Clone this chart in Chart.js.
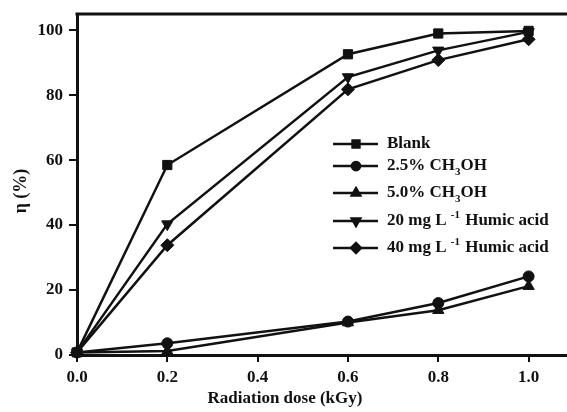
<!DOCTYPE html>
<html>
<head>
<meta charset="utf-8">
<script src="https://cdn.jsdelivr.net/npm/chart.js@4.4.0/dist/chart.umd.min.js"></script>
<style>
  body { margin: 0; background: #fff; }
  #wrap { width: 567px; height: 412px; }
</style>
</head>
<body>
<div id="wrap"><canvas id="myChart" width="567" height="412"></canvas></div>
<script>
// data
var doses = [0.0, 0.2, 0.6, 0.8, 1.0];
var blank = [0.8, 58.5, 92.6, 99.0, 99.8];
var meoh25 = [0.8, 3.6, 10.3, 16.0, 24.2];
var meoh50 = [0.8, 1.2, 10.0, 13.8, 21.2];
var humic20 = [0.8, 40.3, 85.6, 93.8, 99.5];
var humic40 = [0.8, 33.8, 81.8, 90.8, 97.2];

var seriesNames = ['Blank', '2.5% CH\u2083OH', '5.0% CH\u2083OH', '20 mg L\u207B\u00B9 Humic acid', '40 mg L\u207B\u00B9 Humic acid'];
// legend text with _x = subscript, ^x = superscript
var legendText = ['Blank', '2.5% CH_3OH', '5.0% CH_3OH', '20 mg L ^-1 Humic acid', '40 mg L ^-1 Humic acid'];
var xTicks = [0.0, 0.2, 0.4, 0.6, 0.8, 1.0];
var yTicks = [0, 20, 40, 60, 80, 100];

var ink = '#111';
var serif = "'Liberation Serif', 'Times New Roman', serif";

function pts(vals) {
  return doses.map(function(d, i) { return { x: d, y: vals[i] }; });
}

function ds(label, vals, style, radius, rot) {
  return {
    label: label,
    data: pts(vals),
    borderColor: ink,
    backgroundColor: ink,
    borderWidth: 2.5,
    pointStyle: style,
    pointRadius: radius,
    pointRotation: rot || 0,
    pointBorderWidth: 1,
    tension: 0,
    clip: false
  };
}

var markers = [
  { style: 'rect', r: 6.5, rot: 0 },
  { style: 'circle', r: 5.5, rot: 0 },
  { style: 'triangle', r: 6.5, rot: 0 },
  { style: 'triangle', r: 6.5, rot: 180 },
  { style: 'rectRot', r: 6.5, rot: 0 }
];
var allVals = [blank, meoh25, meoh50, humic20, humic40];

// legend, titles and top frame line
var extras = {
  id: 'extras',
  afterDraw: function(chart) {
    var c = chart.ctx, a = chart.chartArea;
    c.save();
    c.strokeStyle = ink;
    c.lineWidth = 3;
    c.beginPath();
    c.moveTo(a.left - 1.5, a.top);
    c.lineTo(chart.width, a.top);
    c.stroke();

    // axis titles
    c.fillStyle = ink;
    c.font = 'bold 17px ' + serif;
    c.textAlign = 'center';
    c.textBaseline = 'middle';
    c.fillText('Radiation dose (kGy)', 285, 399);
    c.save();
    c.translate(21, 191);
    c.rotate(-Math.PI / 2);
    c.font = 'bold 18px ' + serif;
    c.fillText('\u03B7 (%)', 0, 0);
    c.restore();

    // legend
    var rows = [144, 166, 193, 221, 248];
    rows.forEach(function(y, i) {
      c.lineWidth = 2.5;
      c.beginPath();
      c.moveTo(333, y);
      c.lineTo(378, y);
      c.stroke();
      var m = markers[i];
      Chart.helpers.drawPoint(c, { pointStyle: m.style, radius: m.r * 0.75, rotation: m.rot, borderWidth: 1 }, 356, y);
      c.fill();
      drawRich(c, legendText[i], 387, y);
    });
    c.restore();
  }
};

function drawRich(c, txt, x, y) {
  var big = 'bold 17px ' + serif, small = 'bold 11px ' + serif;
  c.textAlign = 'left';
  c.textBaseline = 'middle';
  var i = 0;
  while (i < txt.length) {
    var ch = txt[i];
    if (ch === '_' || ch === '^') {
      var j = i + 1, part = '';
      if (ch === '^') { part = txt.substr(j, 2); j += 2; } else { part = txt[j]; j += 1; }
      c.font = small;
      c.fillText(part, x, y + (ch === '_' ? 6 : -6));
      x += c.measureText(part).width + (ch === '^' ? 1 : 0);
      i = j;
    } else {
      var k = i;
      while (k < txt.length && txt[k] !== '_' && txt[k] !== '^') k++;
      var seg = txt.substring(i, k);
      c.font = big;
      c.fillText(seg, x, y);
      x += c.measureText(seg).width;
      i = k;
    }
  }
}

var ctx = document.getElementById('myChart').getContext('2d');
var chart = new Chart(ctx, {
  type: 'line',
  data: {
    datasets: allVals.map(function(v, i) {
      return ds(seriesNames[i], v, markers[i].style, markers[i].r, markers[i].rot);
    })
  },
  options: {
    responsive: false,
    animation: false,
    layout: { autoPadding: false, padding: { top: 14, right: 0, left: 0, bottom: 0 } },
    plugins: { legend: { display: false }, tooltip: { enabled: false } },
    scales: {
      x: {
        type: 'linear',
        min: 0,
        max: 1.085,
        afterBuildTicks: function(s) { s.ticks = xTicks.map(function(v) { return { value: v }; }); },
        afterFit: function(s) { s.height = 57; s.paddingLeft = 0; s.paddingRight = 0; },
        border: { color: ink, width: 3 },
        grid: { drawOnChartArea: false, color: ink, lineWidth: 2, tickLength: 7 },
        ticks: {
          color: ink,
          padding: 5,
          maxRotation: 0,
          font: { family: serif, size: 17, weight: 'bold' },
          callback: function(v) { return v.toFixed(1); }
        }
      },
      y: {
        min: 0,
        max: 105,
        afterBuildTicks: function(s) { s.ticks = yTicks.map(function(v) { return { value: v }; }); },
        afterFit: function(s) { s.width = 77; s.paddingTop = 0; s.paddingBottom = 0; },
        border: { color: ink, width: 3 },
        grid: { drawOnChartArea: false, color: ink, lineWidth: 2, tickLength: 8 },
        ticks: {
          color: ink,
          padding: 6,
          font: { family: serif, size: 17, weight: 'bold' },
          callback: function(v) { return String(v); }
        }
      }
    }
  },
  plugins: [extras]
});
</script>
</body>
</html>
